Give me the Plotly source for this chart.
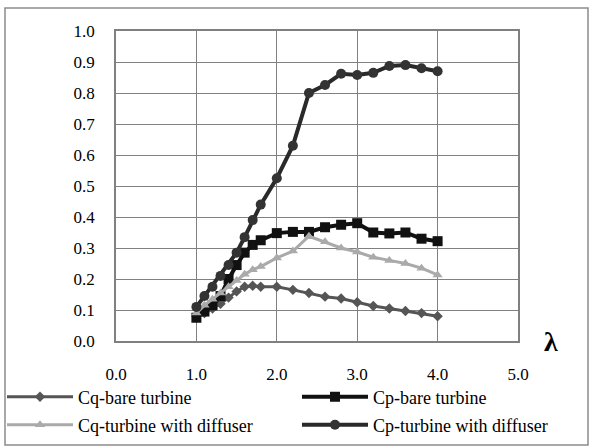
import plotly.graph_objects as go

lam = [1.0, 1.1, 1.2, 1.3, 1.4, 1.5, 1.6, 1.7, 1.8, 2.0, 2.2, 2.4, 2.6, 2.8, 3.0, 3.2, 3.4, 3.6, 3.8, 4.0]
cq_bare = [0.08, 0.09, 0.105, 0.12, 0.14, 0.16, 0.175, 0.178, 0.175, 0.175, 0.165, 0.155, 0.143, 0.137, 0.125, 0.113, 0.105, 0.097, 0.09, 0.08]
cp_bare = [0.075, 0.095, 0.115, 0.145, 0.20, 0.245, 0.285, 0.31, 0.325, 0.348, 0.352, 0.352, 0.367, 0.375, 0.38, 0.35, 0.347, 0.35, 0.33, 0.322]
cq_diff = [0.09, 0.115, 0.135, 0.155, 0.175, 0.195, 0.215, 0.23, 0.24, 0.268, 0.29, 0.338, 0.32, 0.30, 0.287, 0.27, 0.26, 0.25, 0.235, 0.213]
cp_diff = [0.11, 0.145, 0.175, 0.21, 0.245, 0.285, 0.335, 0.39, 0.44, 0.525, 0.63, 0.80, 0.826, 0.862, 0.858, 0.865, 0.887, 0.89, 0.88, 0.87]

names = ["Cq-bare turbine", "Cp-bare turbine", "Cq-turbine with diffuser", "Cp-turbine with diffuser"]
xticks = [0.0, 1.0, 2.0, 3.0, 4.0, 5.0]
yticks = [0.0, 0.1, 0.2, 0.3, 0.4, 0.5, 0.6, 0.7, 0.8, 0.9, 1.0]

FONT = "Liberation Serif, serif"
W, H = 592, 448
L, R, T, B = 116, 518, 31, 341

def px_x(p):
    return (p - L) / (R - L)

def px_y(p):
    return (B - p) / (B - T)

series = [cq_bare, cp_bare, cq_diff, cp_diff]
styles = [
    dict(line=dict(color="#555555", width=3), marker=dict(symbol="diamond", size=8, color="#555555")),
    dict(line=dict(color="#111111", width=4), marker=dict(symbol="square", size=10, color="#111111")),
    dict(line=dict(color="#aaaaaa", width=3), marker=dict(symbol="triangle-up", size=9, color="#aaaaaa")),
    dict(line=dict(color="#2a2a2a", width=4), marker=dict(symbol="circle", size=10, color="#333333")),
]
legend_ids = ["legend", "legend2", "legend3", "legend4"]
legend_pos = [(2, 397), (297, 397), (2, 425), (297, 425)]

fig = go.Figure()
for i in range(4):
    fig.add_trace(go.Scatter(x=lam, y=series[i], name=names[i], mode="lines+markers",
                             legend=legend_ids[i], **styles[i]))

fig.add_shape(type="rect", xref="paper", yref="paper",
              x0=px_x(5), x1=px_x(588), y0=px_y(445), y1=px_y(8),
              line=dict(color="#8c8c8c", width=1.5), layer="above")

fig.add_annotation(text="<b>λ</b>", xref="paper", yref="paper",
                   x=px_x(551), y=px_y(341), xanchor="center", yanchor="middle",
                   showarrow=False,
                   font=dict(family=FONT, size=28, color="black"))

legend_layout = {}
for lid, (lx, ly) in zip(legend_ids, legend_pos):
    legend_layout[lid] = dict(x=px_x(lx), y=px_y(ly), xanchor="left", yanchor="middle",
                              font=dict(family=FONT, size=18), itemwidth=66,
                              bgcolor="rgba(0,0,0,0)")

fig.update_layout(
    width=W, height=H,
    margin=dict(l=L, r=W - R, t=T, b=H - B, autoexpand=False),
    paper_bgcolor="white", plot_bgcolor="white",
    font=dict(family=FONT, size=16, color="black"),
    showlegend=True,
    **legend_layout,
)
fig.update_xaxes(range=[0, 5], tickvals=xticks, ticktext=[f"{v:.1f}" for v in xticks],
                 showgrid=True, gridcolor="#808080", gridwidth=1,
                 showline=True, linecolor="#808080", linewidth=1.5, mirror=True,
                 zeroline=False, ticks="", ticklabelstandoff=17,
                 tickfont=dict(family=FONT, size=17))
fig.update_yaxes(range=[0, 1], tickvals=yticks, ticktext=[f"{v:.1f}" for v in yticks],
                 showgrid=True, gridcolor="#808080", gridwidth=1,
                 showline=True, linecolor="#808080", linewidth=1.5, mirror=True,
                 zeroline=False, ticks="", ticklabelstandoff=16,
                 tickfont=dict(family=FONT, size=17))

fig.write_html("out.html", config={"displayModeBar": False},
               post_script="document.body.style.margin='0';")
